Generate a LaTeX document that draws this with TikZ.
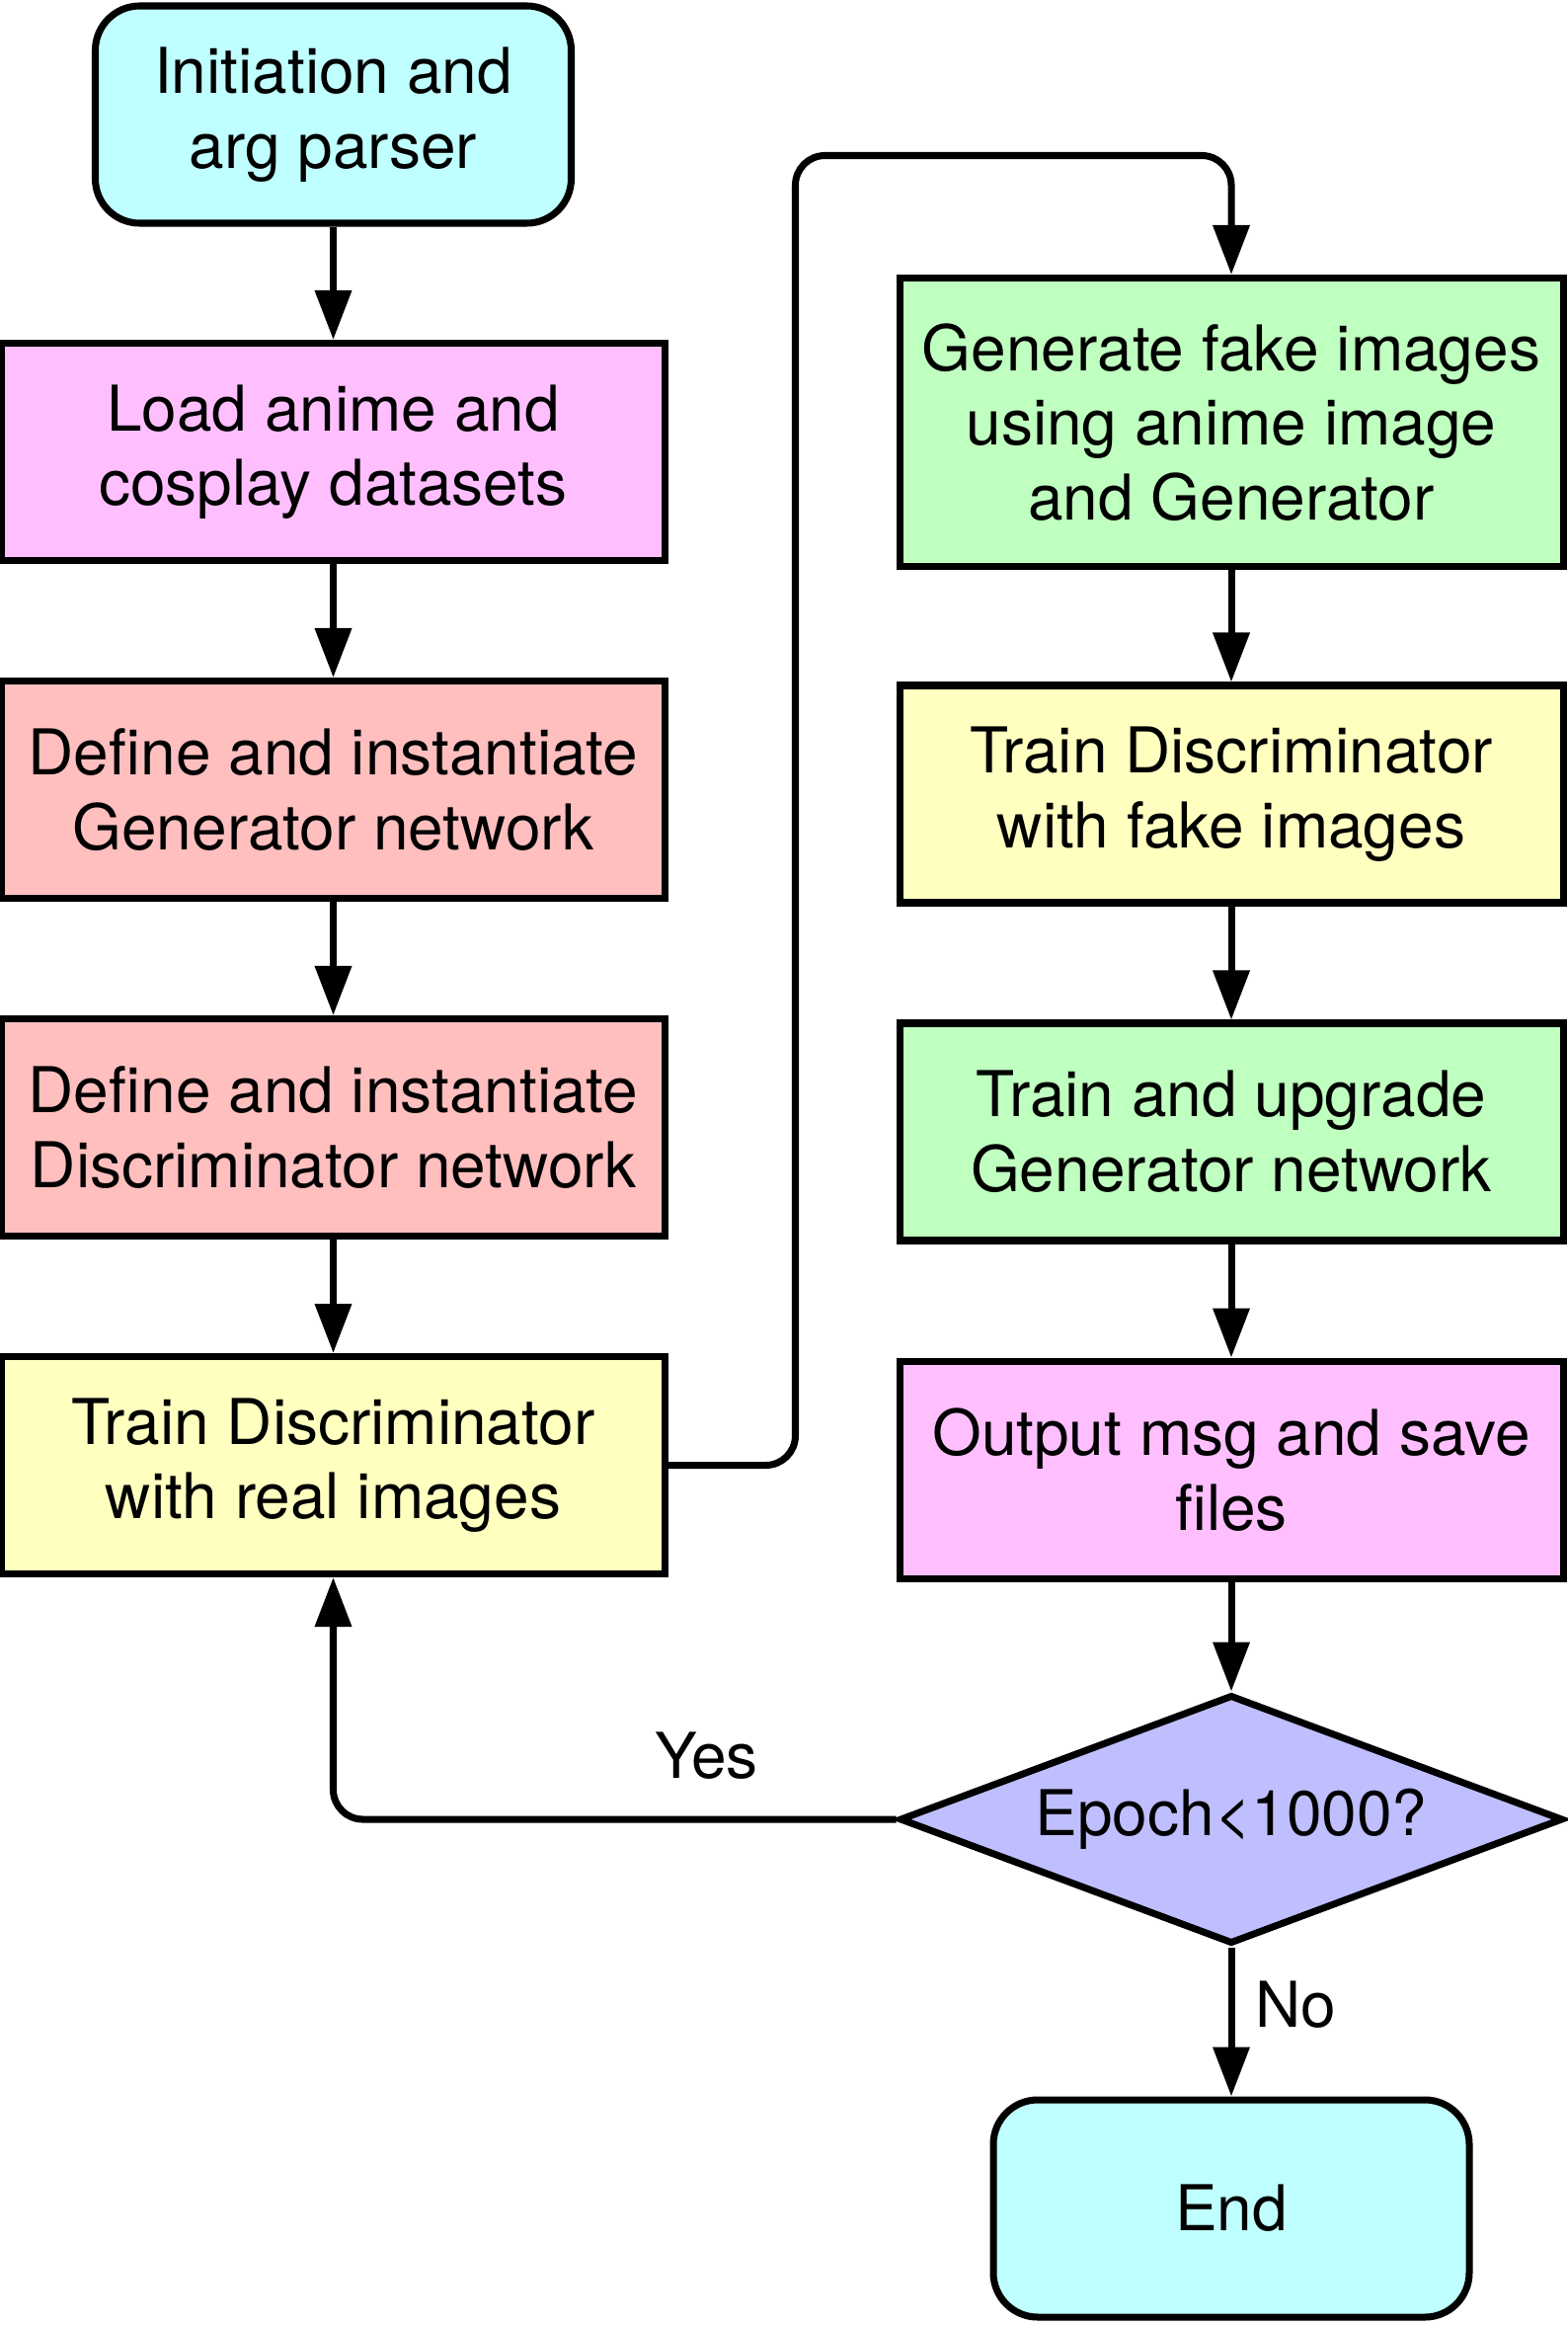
\documentclass[tikz,border=0pt]{standalone}
\usepackage{fontspec}
\setmainfont{TeX Gyre Heros}
\usepackage{tikz}
\usepackage{xcolor}
\usetikzlibrary{arrows.meta,shapes.geometric}

\definecolor{cyanbox}{HTML}{BFFFFF}
\definecolor{pinkbox}{HTML}{FFBFFF}
\definecolor{redbox}{HTML}{FFBFBF}
\definecolor{yellowbox}{HTML}{FFFFC0}
\definecolor{greenbox}{HTML}{BFFFBF}
\definecolor{bluebox}{HTML}{BFBFFF}

\begin{document}
\begin{tikzpicture}[
                font=\fontsize{18.2}{21.5}\selectfont,
                every node/.style={align=center},
                flowbox/.style={draw, line width=2pt, minimum width=6.72cm, minimum height=2.2cm},
                termbox/.style={draw, line width=2pt, rounded corners=0.45cm, fill=cyanbox, minimum width=4.82cm, minimum height=2.2cm},
                flowarrow/.style={line width=2pt, -{Triangle[length=0.5cm,width=0.36cm]}}
            ]
                \useasboundingbox (0,0) rectangle (15.88,-23.56);
                % left column
                \node[termbox] (start) at (3.375,-1.16) {Initiation and\\arg parser};
                \node[flowbox, fill=pinkbox] (load) at (3.375,-4.575) {Load anime and\\cosplay datasets};
                \node[flowbox, fill=redbox] (defgen) at (3.375,-7.995) {Define and instantiate\\Generator network};
                \node[flowbox, fill=redbox] (defdisc) at (3.375,-11.415) {Define and instantiate\\Discriminator network};
                \node[flowbox, fill=yellowbox] (trainreal) at (3.375,-14.835) {Train Discriminator\\with real images};
                % right column
                \node[flowbox, fill=greenbox, minimum height=2.92cm] (gen) at (12.47,-4.275) {Generate fake images\\using anime image\\and Generator};
                \node[flowbox, fill=yellowbox] (trainfake) at (12.47,-8.04) {Train Discriminator\\with fake images};
                \node[flowbox, fill=greenbox] (upgrade) at (12.47,-11.46) {Train and upgrade\\Generator network};
                \node[flowbox, fill=pinkbox] (output) at (12.47,-14.88) {Output msg and save\\files};
                \node[draw, diamond, line width=2pt, fill=bluebox, aspect=2.67, minimum width=6.72cm, minimum height=2.52cm, inner sep=1pt] (epoch) at (12.47,-18.42) {Epoch<1000?};
                \node[termbox] (end) at (12.47,-22.36) {End};
                \coordinate (looptop) at (8.055,-1.575);
                \node (yes) at (7.155,-17.775) {Yes};
                \node (no) at (13.12,-20.3) {No};
                % arrows
                \draw[flowarrow] (start) -- (load);
                \draw[flowarrow] (load) -- (defgen);
                \draw[flowarrow] (defgen) -- (defdisc);
                \draw[flowarrow] (defdisc) -- (trainreal);
                \draw[flowarrow, rounded corners=0.3cm] (trainreal.east) -| (looptop) -| (gen.north);
                \draw[flowarrow] (gen) -- (trainfake);
                \draw[flowarrow] (trainfake) -- (upgrade);
                \draw[flowarrow] (upgrade) -- (output);
                \draw[flowarrow] (output) -- (epoch);
                \draw[flowarrow, rounded corners=0.3cm] (epoch.west) -| (trainreal.south);
                \draw[flowarrow] (epoch) -- (end);
            \end{tikzpicture}
\end{document}
